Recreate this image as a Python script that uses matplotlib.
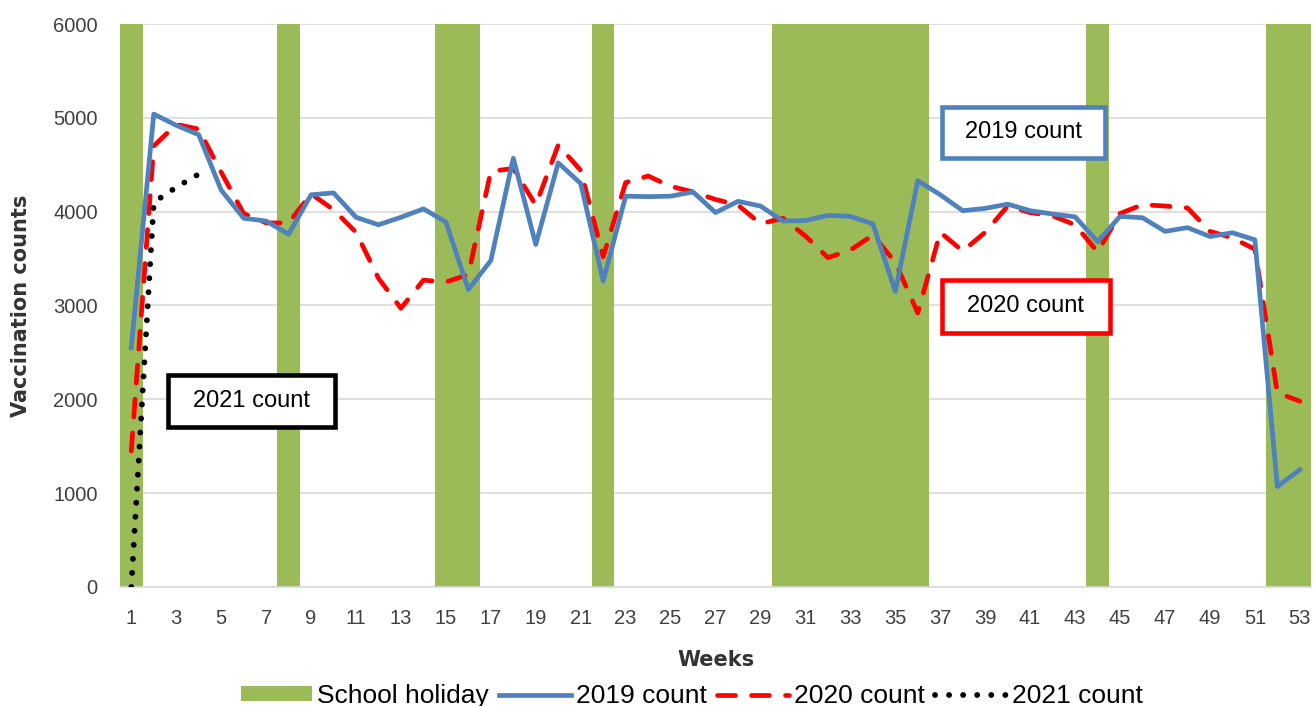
import numpy as np
import matplotlib.pyplot as plt
from matplotlib.patches import Rectangle

plt.rcParams["font.family"] = ["Liberation Sans", "DejaVu Sans"]

weeks = list(range(1, 54))

holiday_weeks = [1, 8, 15, 16, 22, 30, 31, 32, 33, 34, 35, 36, 44, 52, 53]
holiday = [6000 if w in holiday_weeks else 0 for w in weeks]

count_2019 = [2550, 5040, 4920, 4820, 4230, 3930, 3900, 3760, 4180, 4200,
              3940, 3860, 3940, 4030, 3890, 3170, 3480, 4570, 3650, 4520,
              4300, 3260, 4165, 4160, 4165, 4210, 3990, 4110, 4060, 3900,
              3905, 3960, 3950, 3870, 3150, 4330, 4180, 4010, 4035, 4080,
              4010, 3975, 3945, 3680, 3950, 3935, 3790, 3830, 3735, 3775,
              3700, 1070, 1250]

count_2020 = [1450, 4700, 4930, 4880, 4420, 3980, 3880, 3880, 4190, 4020,
              3780, 3290, 2970, 3270, 3250, 3330, 4430, 4460, 4070, 4710,
              4440, 3520, 4310, 4380, 4270, 4210, 4130, 4070, 3870, 3930,
              3740, 3510, 3590, 3750, 3460, 2920, 3780, 3580, 3780, 4060,
              3990, 3955, 3860, 3570, 3980, 4075, 4060, 4040, 3790, 3720,
              3600, 2070, 1980]

weeks_2021 = [1, 2, 3, 4]
count_2021 = [0, 4100, 4260, 4400]

# label boxes: (text, x0, x1, y0, y1, edge colour) in week / count units
label_boxes = [("2019 count", 37.07, 44.33, 4574, 5117, "#4f81bd"),
               ("2020 count", 37.07, 44.55, 2708, 3273, "#ff0000"),
               ("2021 count", 2.64, 10.07, 1706, 2260, "black")]

fig = plt.figure(figsize=(13.15, 7.06), dpi=100)
ax = fig.add_axes([0.0913, 0.1686, 0.9057, 0.7974])

bars = ax.bar(weeks, holiday, width=1.0, color="#9bbb59", label="School holiday", zorder=2)
l19, = ax.plot(weeks, count_2019, color="#4f81bd", lw=3.4, label="2019 count", zorder=4)
l20, = ax.plot(weeks, count_2020, color="#ff0000", lw=3.4, ls=(0, (3.8, 3.4)),
               dash_capstyle="round", label="2020 count", zorder=3)
l21, = ax.plot(weeks_2021, count_2021, color="black", lw=4.2, ls=(0, (0.01, 2.4)),
               dash_capstyle="round", label="2021 count", zorder=5)

ax.set_xlim(0.5, 53.5)
ax.set_ylim(0, 6000)
ax.set_xticks(weeks[::2])
ax.set_yticks(range(0, 6001, 1000))
ax.tick_params(length=0, labelsize=14.5, colors="#404040")
ax.tick_params(axis="x", pad=16)
ax.tick_params(axis="y", pad=16)
ax.grid(axis="y", color="#d9d9d9", lw=1.2, zorder=0)
ax.set_axisbelow(True)
for s in ["top", "right", "left"]:
    ax.spines[s].set_visible(False)
ax.spines["bottom"].set_color("#d9d9d9")
ax.spines["bottom"].set_linewidth(1.2)

ax.set_xlabel("Weeks", fontsize=15, fontweight="bold", family=["DejaVu Sans"],
              color="#333333", labelpad=16)
ax.set_ylabel("Vaccination counts", fontsize=15, fontweight="bold", family=["DejaVu Sans"],
              color="#333333", labelpad=16)

for txt, x0, x1, y0, y1, col in label_boxes:
    ax.add_patch(Rectangle((x0, y0), x1 - x0, y1 - y0, fc="white", ec=col, lw=3.3, zorder=6))
    ax.text((x0 + x1) / 2, (y0 + y1) / 2, txt, ha="center", va="center", fontsize=17, zorder=7)

fig.legend([bars, l19, l20, l21], ["School holiday", "2019 count", "2020 count", "2021 count"],
           loc="center", bbox_to_anchor=(0.526, 0.014), ncol=4, frameon=False,
           fontsize=19, handlelength=2.7, handleheight=0.5, handletextpad=0.2,
           columnspacing=0.4, borderpad=0)

fig.savefig("out.png", dpi=100)
